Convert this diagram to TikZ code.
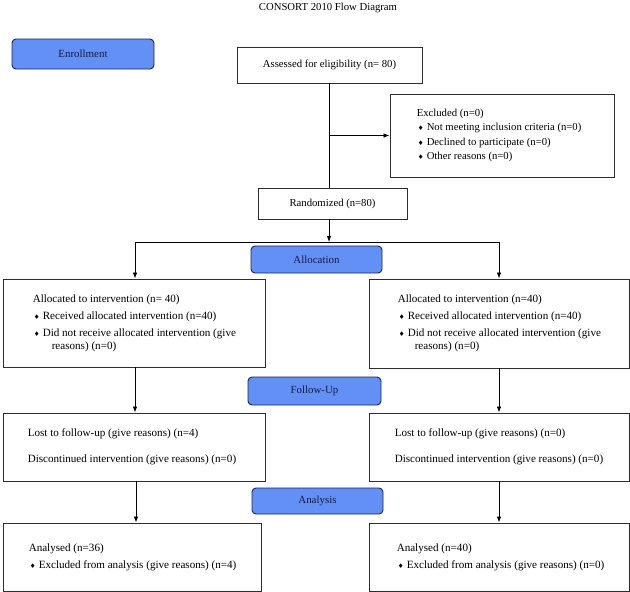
\documentclass[tikz,border=0pt]{standalone}
\usepackage{fontspec}
\setmainfont{Liberation Serif}
\newfontfamily\symfont{DejaVu Sans}
\usetikzlibrary{arrows.meta}
\newcommand{\bul}{\makebox[10pt][l]{\hspace{1.2pt}{\symfont\fontsize{6.5}{6}\selectfont ♦}}}
\definecolor{phasefill}{RGB}{99,144,245}
\definecolor{phasedraw}{RGB}{28,38,78}
\definecolor{phasetext}{RGB}{20,28,70}
\definecolor{boxdraw}{RGB}{45,45,45}
\begin{document}
\begin{tikzpicture}[x=1pt,y=-1pt,
  box/.style={draw=boxdraw,line width=0.9pt,rectangle,inner sep=0pt},
  phase/.style={draw=phasedraw,fill=phasefill,line width=0.9pt,rounded corners=4pt,
    inner sep=0pt,text=phasetext,font=\fontsize{10.9}{13}\selectfont},
  txt/.style={anchor=west,inner sep=0pt,align=left,font=\fontsize{11.1}{13}\selectfont},
  ctxt/.style={inner sep=0pt,font=\fontsize{10.7}{13}\selectfont},
  line/.style={draw=black,line width=0.8pt},
  arr/.style={line,-{Latex[length=6pt,width=4.5pt]}}]
\useasboundingbox (0,0) rectangle (630,592);
\fill[white] (0,0) rectangle (630,592);

\node[ctxt] (title) at (328,8) {CONSORT 2010 Flow Diagram};

% phase labels
\node[phase,minimum width=142pt,minimum height=30pt] (enroll) at (83,54) {Enrollment};
\node[phase,minimum width=131pt,minimum height=27pt] (alloc) at (316.5,259.5) {Allocation};
\node[phase,minimum width=133pt,minimum height=28pt] (follow) at (314.5,391) {Follow-Up};
\node[phase,minimum width=131pt,minimum height=26pt] (analysis) at (317.5,501) {Analysis};

% boxes
\node[box,minimum width=185pt,minimum height=36pt] (assess) at (329.5,65) {};
\node[ctxt] (assesst) at (assess) {Assessed for eligibility (n= 80)};
\node[box,minimum width=224pt,minimum height=83pt] (excl) at (502,135.5) {};
\node[txt,font=\fontsize{10.7}{13.5}\selectfont] (exclt) at ([xshift=27pt]excl.west) {Excluded (n=0)\\[1pt]
\bul Not meeting inclusion criteria (n=0)\\[1pt]
\bul Declined to participate (n=0)\\[1pt]
\bul Other reasons (n=0)};
\node[box,minimum width=149pt,minimum height=31pt] (rand) at (332.5,203.5) {};
\node[ctxt] (randt) at (rand) {Randomized (n=80)};

\node[box,minimum width=262pt,minimum height=88pt] (allocL) at (134,323) {};
\node[txt] (allocLt) at ([xshift=30pt]allocL.west) {Allocated to intervention (n= 40)\\[4pt]
\bul Received allocated intervention (n=40)\\[4pt]
\bul Did not receive allocated intervention (give\\
\hspace*{19pt}reasons) (n=0)};
\node[box,minimum width=260pt,minimum height=89pt] (allocR) at (499,323.5) {};
\node[txt] (allocRt) at ([xshift=29pt]allocR.west) {Allocated to intervention (n=40)\\[4pt]
\bul Received allocated intervention (n=40)\\[4pt]
\bul Did not receive allocated intervention (give\\
\hspace*{17pt}reasons) (n=0)};

\node[box,minimum width=262pt,minimum height=68pt] (lostL) at (134,447) {};
\node[txt] (lostLt) at ([xshift=25pt]lostL.west) {Lost to follow-up (give reasons) (n=4)\\[13pt]
Discontinued intervention (give reasons) (n=0)};
\node[box,minimum width=260pt,minimum height=68pt] (lostR) at (499,447) {};
\node[txt] (lostRt) at ([xshift=26pt]lostR.west) {Lost to follow-up (give reasons) (n=0)\\[13pt]
Discontinued intervention (give reasons) (n=0)};

\node[box,minimum width=258pt,minimum height=68pt] (anaL) at (132,557) {};
\node[txt] (anaLt) at ([xshift=26pt]anaL.west) {Analysed (n=36)\\[4pt]
\bul Excluded from analysis (give reasons) (n=4)};
\node[box,minimum width=260pt,minimum height=68pt] (anaR) at (499,557) {};
\node[txt] (anaRt) at ([xshift=28pt]anaR.west) {Analysed (n=40)\\[4pt]
\bul Excluded from analysis (give reasons) (n=0)};

% connectors
\coordinate (main) at (329,0);
\coordinate (colL) at (135,0);
\coordinate (colR) at (499,0);
\coordinate (colL2) at (136,0);
\coordinate (split) at (329,135.5);
\coordinate (fork) at (329,242);
\draw[line] (assess.south -| main) -- (rand.north -| main);
\draw[arr] (split) -- (excl.west);
\draw[arr] (rand.south -| main) -- (fork);
\draw[line] (fork -| colL) -- (fork -| colR);
\draw[arr] (fork -| colL) -- (allocL.north -| colL);
\draw[arr] (fork -| colR) -- (allocR.north -| colR);
\draw[arr] (allocL.south -| colL) -- (lostL.north -| colL);
\draw[arr] (allocR.south -| colR) -- (lostR.north -| colR);
\draw[arr] (lostL.south -| colL2) -- (anaL.north -| colL2);
\draw[arr] (lostR.south -| colR) -- (anaR.north -| colR);
\end{tikzpicture}
\end{document}
